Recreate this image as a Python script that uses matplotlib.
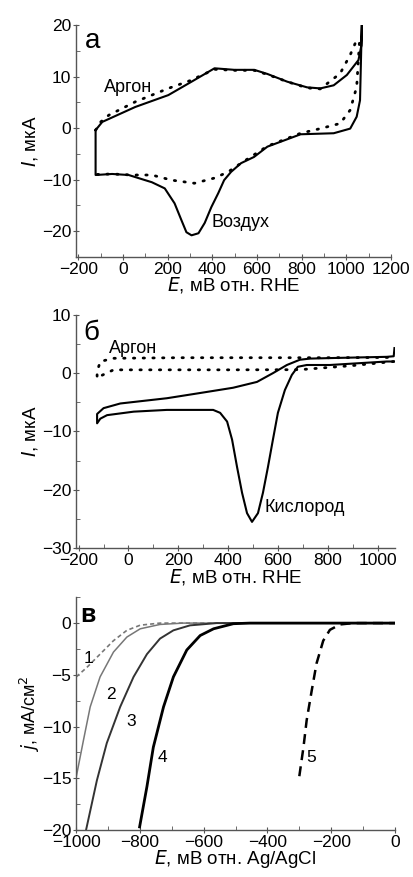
import matplotlib

matplotlib.use("Agg")
import matplotlib.pyplot as plt
from matplotlib.ticker import MultipleLocator

plt.rcParams["font.family"] = ["Liberation Sans", "DejaVu Sans"]
plt.rcParams["font.size"] = 10.5

# --- Панель а: ЦВА, воздух (сплошная) и аргон (точки) ---
air_E = [-123, -93, 55, 203, 307, 410, 499, 588, 647, 736, 825, 884, 944, 1003, 1055, 1068, 1070,
         1062, 1047, 1018, 944, 796, 647, 587, 529, 484, 453, 427, 396, 366, 338, 307, 284, 262, 231,
         187, 129, 99, 25, -49, -123, -123]
air_I = [-0.4, 1.2, 4.1, 6.4, 9.0, 11.6, 11.3, 11.3, 10.5, 9.0, 7.9, 7.7, 8.3, 10.3, 13.2, 16.0, 20.0,
         5.4, 2.2, -0.1, -1.0, -1.2, -3.6, -5.6, -6.8, -8.5, -10.1, -12.6, -15.3, -18.4, -20.4, -20.8,
         -20.2, -17.9, -14.6, -11.7, -10.5, -10.1, -9.1, -8.9, -9.1, -0.4]

ar_a_E = [-123, -100, -64, 55, 203, 300, 410, 499, 588, 647, 736, 825, 884, 973, 1018, 1040, 1060,
          1047, 1018, 973, 884, 796, 647, 529, 471, 409, 320, 218, 129, 40, -49, -123]
ar_a_I = [-0.4, 1.2, 2.5, 5.1, 7.7, 9.2, 11.4, 11.2, 11.2, 10.4, 9.0, 7.8, 7.6, 10.6, 14.2, 16.4, 17.0,
          8.0, 3.5, 0.9, -0.1, -1.0, -3.5, -6.8, -8.5, -9.7, -10.7, -10.1, -9.1, -9.1, -8.9, -9.0]

# --- Панель б: кислород (сплошная) и аргон (точки) ---
o2_E = [1065, 1037, 808, 716, 680, 656, 628, 600, 580, 560, 540, 520, 496, 476, 456, 436, 416, 396,
        368, 340, 154, 21, -86, -113, -126, -126, -100, -33, 154, 288, 420, 516, 580, 636, 688, 729,
        823, 1037, 1065, 1068]
o2_I = [2.0, 2.0, 1.4, 1.4, 1.1, -0.3, -2.9, -6.8, -11.4, -16.1, -20.5, -24.0, -25.5, -24.0, -20.5,
        -16.1, -11.4, -8.3, -6.8, -6.3, -6.3, -6.6, -7.2, -7.8, -8.6, -7.0, -6.0, -5.2, -4.3, -3.4,
        -2.5, -1.5, 0.0, 1.4, 2.3, 2.5, 2.6, 2.8, 2.9, 4.3]

ar_b_E = [1065, 900, 689, 400, 100, -60, -113, -126, -126, -113, -60, 200, 500, 800, 1065]
ar_b_I = [2.0, 1.3, 0.6, 0.57, 0.57, 0.57, -0.5, -0.9, 0.3, 2.0, 2.55, 2.65, 2.65, 2.65, 2.7]

# --- Панель в: поляризационные кривые 1-5 ---
c1_E = [-1000, -967, -925, -883, -841, -799, -737, 0]
c1_j = [-5.2, -4.3, -3.0, -1.7, -0.7, -0.2, 0.0, 0.0]
c2_E = [-1000, -977, -956, -925, -883, -841, -799, -737, -664, 0]
c2_j = [-14.9, -11.3, -8.1, -5.2, -2.8, -1.35, -0.55, -0.13, 0.0, 0.0]
c3_E = [-969, -935, -904, -862, -820, -778, -737, -695, -643, -559, 0]
c3_j = [-20.0, -15.2, -11.6, -8.1, -5.2, -3.0, -1.5, -0.7, -0.22, 0.0, 0.0]
c4_E = [-801, -778, -758, -726, -695, -653, -611, -569, -507, -455, 0]
c4_j = [-19.7, -15.8, -12.0, -8.1, -5.2, -2.6, -1.2, -0.55, -0.06, 0.0, 0.0]
c5_E = [-300, -287, -277, -261, -246, -225, -204, -172, -131, 0]
c5_j = [-14.8, -12.0, -9.4, -6.5, -3.9, -1.7, -0.65, -0.13, 0.0, 0.0]

curve_labels = ["1", "2", "3", "4", "5"]
curve_label_E = [-978, -906, -843, -746, -279]
curve_label_j = [-3.9, -7.3, -9.9, -13.4, -13.4]

DOTS = (0, (0.5, 3.0))


def _style(ax, xmaj, ymaj):
    for s in ("top", "right"):
        ax.spines[s].set_visible(False)
    for s in ("left", "bottom"):
        ax.spines[s].set_color("#555555")
        ax.spines[s].set_linewidth(1.0)
    ax.xaxis.set_major_locator(MultipleLocator(xmaj))
    ax.xaxis.set_minor_locator(MultipleLocator(xmaj / 2))
    ax.yaxis.set_major_locator(MultipleLocator(ymaj))
    ax.yaxis.set_minor_locator(MultipleLocator(ymaj / 2))
    ax.tick_params(which="major", direction="inout", length=5, color="#555555", labelsize=12.5, pad=1)
    ax.tick_params(which="minor", direction="in", length=3, color="#555555")


fig = plt.figure(figsize=(4.14, 8.77), dpi=100)

# а
ax1 = fig.add_axes([0.184, 0.707, 0.760, 0.2645])
ax1.plot(air_E, air_I, color="black", lw=1.5)
ax1.plot(ar_a_E, ar_a_I, color="black", lw=2.0, ls=DOTS, dash_capstyle="round")
ax1.set_xlim(-210, 1200)
ax1.set_ylim(-25, 20)
_style(ax1, 200, 10)
ax1.set_xlabel("$E$, мВ отн. RHE", fontsize=13.5, labelpad=-1)
ax1.set_ylabel("$I$, мкА", fontsize=13.5, labelpad=1)
ax1.text(-172, 15.6, "а", fontsize=20)
ax1.text(-84, 7.0, "Аргон", fontsize=13)
ax1.text(396, -19.2, "Воздух", fontsize=13)

# б
ax2 = fig.add_axes([0.184, 0.375, 0.770, 0.266])
ax2.plot(o2_E, o2_I, color="black", lw=1.5)
ax2.plot(ar_b_E, ar_b_I, color="black", lw=2.0, ls=DOTS, dash_capstyle="round")
ax2.set_xlim(-210, 1070)
ax2.set_ylim(-30, 10)
_style(ax2, 200, 10)
ax2.set_xlabel("$E$, мВ отн. RHE", fontsize=13.5, labelpad=-1)
ax2.set_ylabel("$I$, мкА", fontsize=13.5, labelpad=1)
ax2.text(-182, 5.7, "б", fontsize=20)
ax2.text(-80, 3.5, "Аргон", fontsize=13)
ax2.text(548, -23.8, "Кислород", fontsize=13)

# в
ax3 = fig.add_axes([0.184, 0.0536, 0.770, 0.2654])
ax3.plot(c1_E, c1_j, color="#777777", lw=1.2, ls=(0, (2.5, 1.8)))
ax3.plot(c2_E, c2_j, color="#777777", lw=1.1)
ax3.plot(c3_E, c3_j, color="#333333", lw=1.4)
ax3.plot(c4_E, c4_j, color="black", lw=2.0)
ax3.plot(c5_E, c5_j, color="black", lw=1.8, ls=(0, (4, 2.5)))
ax3.set_xlim(-1000, 0)
ax3.set_ylim(-20, 2.5)
_style(ax3, 200, 5)
ax3.set_xlabel("$E$, мВ отн. Ag/AgCl", fontsize=13.5, labelpad=-1)
ax3.set_ylabel("$j$, мА/см$^2$", fontsize=13, labelpad=0)
ax3.text(-987, 0.1, "в", fontsize=18, fontweight="bold")
for lbl, x, y in zip(curve_labels, curve_label_E, curve_label_j):
    ax3.text(x, y, lbl, fontsize=12.5)

fig.savefig("out.png", dpi=100)
